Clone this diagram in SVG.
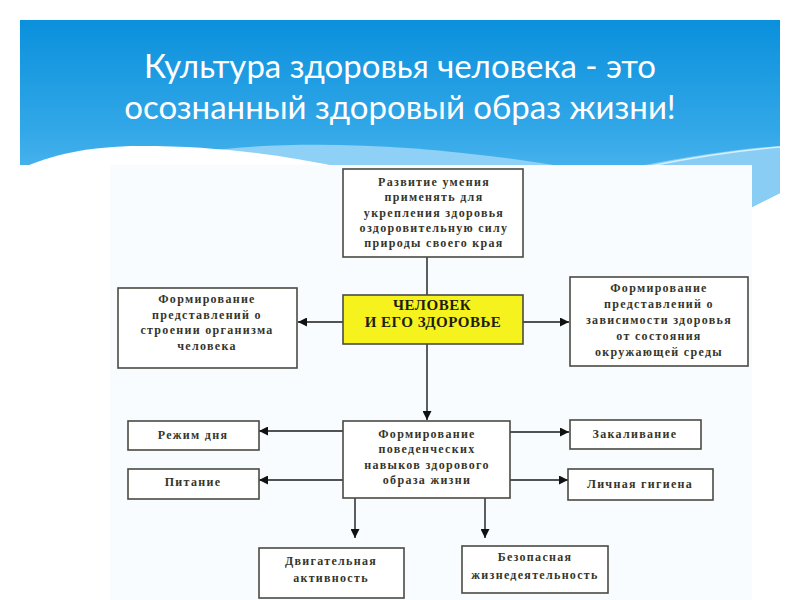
<svg xmlns="http://www.w3.org/2000/svg" width="800" height="600" viewBox="0 0 800 600">
<defs>
<linearGradient id="band" x1="0" y1="0" x2="0" y2="1">
<stop offset="0" stop-color="#0a90dc"/>
<stop offset="0.6" stop-color="#33a8e8"/>
<stop offset="1" stop-color="#5bbdf0"/>
</linearGradient>
<marker id="arr" viewBox="0 0 10 10" refX="10" refY="5" markerWidth="9" markerHeight="9" markerUnits="userSpaceOnUse" orient="auto">
<path d="M0,0 L10,5 L0,10 Z" fill="#111"/>
</marker>
</defs>
<style>
.box{fill:#ffffff;stroke:#4a4a44;stroke-width:1.6}
.hub{fill:#f6f21e;stroke:#4a4a44;stroke-width:1.6}
.t{font-family:"Liberation Serif",serif;font-size:12px;font-weight:bold;letter-spacing:1.3px;fill:#35352a;text-anchor:middle}
.th{font-family:"Liberation Serif",serif;font-size:15px;fill:#1e1e10;text-anchor:middle;font-weight:bold;letter-spacing:0.5px}
.title{font-family:Lato,"Open Sans",sans-serif;font-size:33px;fill:#ffffff;text-anchor:middle}
.c{stroke:#1a1a1a;stroke-width:1.4;fill:none}
.ca{stroke:#1a1a1a;stroke-width:1.4;fill:none;marker-end:url(#arr)}
</style>
<rect width="800" height="600" fill="#ffffff"/>
<g id="background">
<path d="M20,20 H780 V193 L752,207 V165 H20 Z" fill="url(#band)"/>
<path d="M200,152 C300,138 430,145 560,166 L330,170 Z" fill="#8fd0f6"/>
<path d="M20,169 C50,155 90,146 140,146 C220,146 280,155 345,168 L345,230 L20,230 Z" fill="#ffffff"/>
<path d="M640,166 Q720,150 780,146 L780,193 L752,207 V166 Z" fill="#8acdf4"/>
<path d="M650,166 Q720,152 780,147" fill="none" stroke="#d6effc" stroke-width="1.5"/>
<rect x="110" y="165" width="642" height="435" fill="#f8fcfe"/>
</g>
<g id="title">
<text class="title" x="400" y="78">Культура здоровья человека - это</text>
<text class="title" x="400" y="119">осознанный здоровый образ жизни!</text>
</g>
<g id="connectors">
<line class="c" x1="427" y1="257" x2="427" y2="295"/>
<line class="ca" x1="343" y1="322" x2="298" y2="322"/>
<line class="ca" x1="522" y1="322" x2="569" y2="322"/>
<line class="ca" x1="427" y1="344" x2="427" y2="420"/>
<line class="ca" x1="343" y1="431" x2="259" y2="431"/>
<line class="ca" x1="343" y1="480" x2="259" y2="480"/>
<line class="ca" x1="510" y1="432" x2="569" y2="432"/>
<line class="ca" x1="510" y1="480" x2="568" y2="480"/>
<line class="ca" x1="355" y1="497" x2="355" y2="538"/>
<line class="ca" x1="485" y1="497" x2="485" y2="538"/>
</g>
<g id="n-top">
<rect class="box" x="343" y="169" width="180" height="88"/>
<text class="t" x="434" y="186">Развитие умения</text>
<text class="t" x="434" y="201">применять  для</text>
<text class="t" x="434" y="216.5">укрепления здоровья</text>
<text class="t" x="434" y="231.5">оздоровительную силу</text>
<text class="t" x="434" y="246.5">природы своего края</text>
</g>
<g id="n-hub">
<rect class="hub" x="343" y="295" width="180" height="49"/>
<text class="th" x="432" y="310">ЧЕЛОВЕК</text>
<text class="th" x="433" y="327">И ЕГО ЗДОРОВЬЕ</text>
</g>
<g id="n-left">
<rect class="box" x="118" y="288" width="179" height="80"/>
<text class="t" x="207" y="303">Формирование</text>
<text class="t" x="207" y="318.5">представлений о</text>
<text class="t" x="207" y="334">строении организма</text>
<text class="t" x="207" y="349.5">человека</text>
</g>
<g id="n-right">
<rect class="box" x="570" y="277" width="178" height="89"/>
<text class="t" x="659" y="292">Формирование</text>
<text class="t" x="659" y="308">представлений о</text>
<text class="t" x="659" y="324">зависимости здоровья</text>
<text class="t" x="659" y="340">от состояния</text>
<text class="t" x="659" y="356">окружающей среды</text>
</g>
<g id="n-mid">
<rect class="box" x="343" y="421" width="167" height="77"/>
<text class="t" x="427" y="438">Формирование</text>
<text class="t" x="427" y="453">поведенческих</text>
<text class="t" x="427" y="469">навыков здорового</text>
<text class="t" x="427" y="484">образа жизни</text>
</g>
<g id="n-rezhim">
<rect class="box" x="128" y="421" width="131" height="29"/>
<text class="t" x="193" y="439">Режим дня</text>
</g>
<g id="n-pitanie">
<rect class="box" x="128" y="469" width="131" height="30"/>
<text class="t" x="193" y="486">Питание</text>
</g>
<g id="n-zakal">
<rect class="box" x="570" y="420" width="131" height="29"/>
<text class="t" x="635" y="438">Закаливание</text>
</g>
<g id="n-gigiena">
<rect class="box" x="568" y="469" width="145" height="31"/>
<text class="t" x="640" y="488">Личная гигиена</text>
</g>
<g id="n-dvig">
<rect class="box" x="259" y="548" width="145" height="50"/>
<text class="t" x="331" y="565">Двигательная</text>
<text class="t" x="331" y="582">активность</text>
</g>
<g id="n-bezop">
<rect class="box" x="462" y="546" width="146" height="47"/>
<text class="t" x="535" y="561">Безопасная</text>
<text class="t" x="535" y="579">жизнедеятельность</text>
</g>
</svg>
